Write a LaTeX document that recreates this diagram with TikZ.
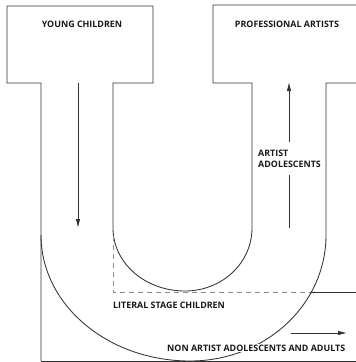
\documentclass[tikz,border=0pt]{standalone}
\usepackage{fontspec}
\setmainfont{Open Sans}
\usetikzlibrary{arrows.meta}

\tikzset{
    lbl/.style={font=\bfseries\fontsize{8.9}{10.5}\selectfont, text=black!90, inner sep=1pt},
    ln/.style={draw=black!80, line width=0.85pt},
    dsh/.style={draw=black!45, line width=0.85pt, dash pattern=on 5pt off 4pt},
    arr/.style={ln, -{Latex[length=9pt,width=4.5pt]}}
}

\begin{document}
\begin{tikzpicture}[x=1pt,y=-1pt]
        \useasboundingbox (0,0) rectangle (356,362);
        \coordinate (ytop) at (78,83);
        \coordinate (ybot) at (78,228);
        \coordinate (ptop) at (289,82);
        \coordinate (pbot) at (289,228);
        \coordinate (ntail) at (291,333);
        \coordinate (nhead) at (347,333);
        % left T and inner U
        \draw[ln] (41,361) -- (41,83) -- (7,83) -- (7,6) -- (153,6) -- (153,83) -- (113,83) -- (113,228)
            .. controls (113,263) and (145,291) .. (185,291)
            .. controls (222,291) and (252,263) .. (252,228)
            -- (252,83) -- (213,83) -- (213,5) -- (356,5);
        % outer U
        \draw[ln] (41,235) .. controls (41,305) and (108,361) .. (190,361)
            .. controls (265,361) and (326,305) .. (326,235) -- (326,83) -- (356,83);
        \draw[ln] (41,361) -- (356,361);
        % literal stage
        \draw[dsh] (113,236) -- (113,292) -- (310,292);
        \draw[ln] (310,292) -- (356,292);
        % texts
        \node[lbl] (young) at (82,24) {YOUNG CHILDREN};
        \node[lbl] (prof) at (287,24) {PROFESSIONAL ARTISTS};
        \node[lbl, align=left, anchor=west] (artist) at (257,159) {ARTIST\\ADOLESCENTS};
        \node[lbl, anchor=west] (literal) at (112,305) {LITERAL STAGE CHILDREN};
        \node[lbl, anchor=west, fill=white] (nonartist) at (166,348) {NON ARTIST ADOLESCENTS AND ADULTS};
        % arrows
        \draw[arr] (ytop) -- (ybot);
        \draw[arr] ([yshift=7pt]artist.north -| ptop) -- (ptop);
        \draw[ln] ([yshift=-6pt]artist.south -| pbot) -- (pbot);
        \draw[arr] (ntail) -- (nhead);
\end{tikzpicture}
\end{document}
